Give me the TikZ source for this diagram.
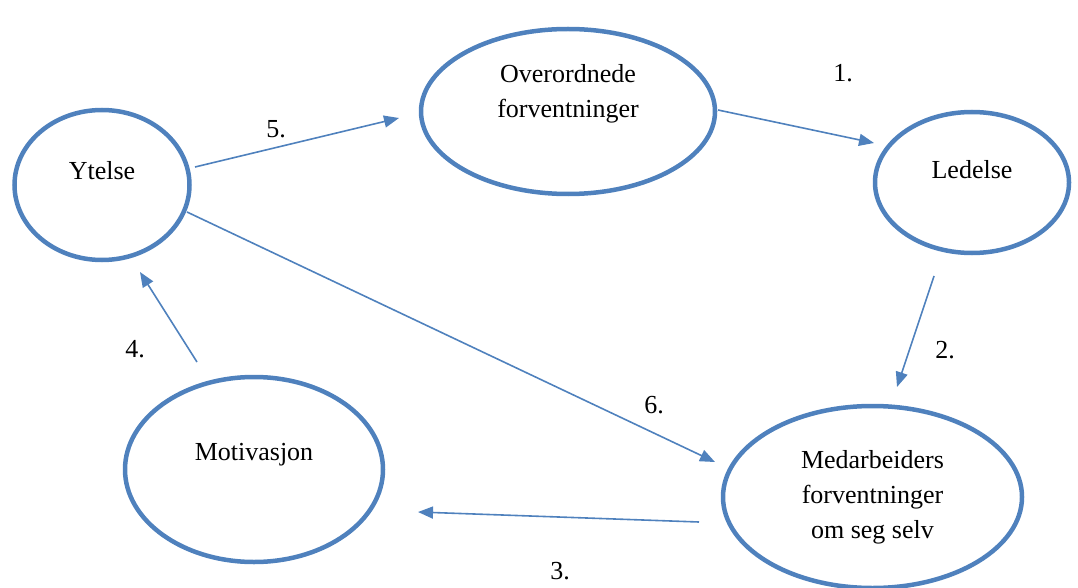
\documentclass[tikz,border=0pt]{standalone}
\usepackage{fontspec}
\setmainfont{Liberation Serif}
\usepackage{tikz}
\usetikzlibrary{arrows.meta,shapes.geometric}
\definecolor{cB}{RGB}{79,129,189}
\tikzset{
  ell/.style={draw=cB, ellipse, line width=4.5pt, inner sep=0pt},
  txt/.style={font=\fontsize{26pt}{35pt}\selectfont, align=center},
  arr/.style={-{Triangle[length=15pt,width=12pt]}, draw=cB, line width=1.6pt},
  num/.style={font=\fontsize{26pt}{35pt}\selectfont, anchor=base}
}

\begin{document}
\begin{tikzpicture}[x=1pt,y=-1pt]
  \useasboundingbox (0,0) rectangle (1078,588);
  % the five ellipses
  \node[ell, minimum width=175pt, minimum height=150pt, label={[txt, yshift=14pt]center:Ytelse}] (ytelse) at (102,185) {};
  \node[ell, minimum width=294pt, minimum height=165pt, label={[txt, yshift=18pt]center:Overordnede\\forventninger}] (overord) at (568,111.5) {};
  \node[ell, minimum width=194pt, minimum height=141pt, label={[txt, yshift=13pt]center:Ledelse}] (ledelse) at (972,182.5) {};
  \node[ell, minimum width=258pt, minimum height=185pt, label={[txt, yshift=15pt]center:Motivasjon}] (motiv) at (254,469.5) {};
  \node[ell, minimum width=299pt, minimum height=182pt, label={[txt]center:Medarbeiders\\forventninger\\om seg selv}] (medarb) at (872.5,497) {};
  % free ends of the arrows
  \coordinate (p5a) at (195,167);  \coordinate (p5b) at (399,118);
  \coordinate (p1a) at (718,110);  \coordinate (p1b) at (874,143);
  \coordinate (p2a) at (934,276);  \coordinate (p2b) at (897,387);
  \coordinate (p3a) at (699,522);  \coordinate (p3b) at (418,512);
  \coordinate (p4a) at (197,362);  \coordinate (p4b) at (140,272);
  \coordinate (p6a) at (187,212);  \coordinate (p6b) at (715,462);
  \draw[arr] (p5a) -- (p5b);
  \draw[arr] (p1a) -- (p1b);
  \draw[arr] (p2a) -- (p2b);
  \draw[arr] (p3a) -- (p3b);
  \draw[arr] (p4a) -- (p4b);
  \draw[arr] (p6a) -- (p6b);
  % step numbers
  \node[num] (n1) at (843,82) {1.};
  \node[num] (n2) at (945,358) {2.};
  \node[num] (n3) at (560,579) {3.};
  \node[num] (n4) at (135,357) {4.};
  \node[num] (n5) at (276,138) {5.};
  \node[num] (n6) at (654,413) {6.};
\end{tikzpicture}
\end{document}
